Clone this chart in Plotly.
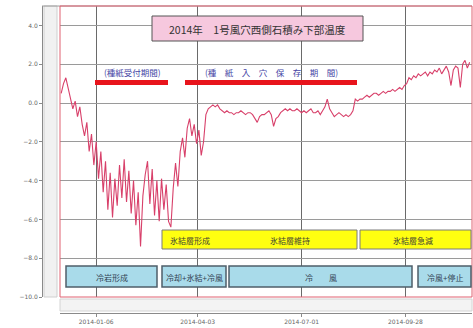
import plotly.graph_objects as go
import pandas as pd

# ---------------- data ----------------
temps = [
    0.5, 1.0, 1.3, 0.8, 0.3, -0.3, 0.1, -0.7, -0.2, -1.1,
    -1.7, -1.0, -2.5, -1.6, -3.2, -2.0, -3.9, -2.5, -4.6, -3.0,
    -5.5, -3.6, -5.9, -3.9, -5.3, -3.2, -4.9, -2.9, -5.1, -3.5,
    -5.7, -4.0, -6.3, -4.6, -7.4, -4.8, -3.7, -3.0, -5.2, -3.4,
    -5.8, -4.0, -6.1, -3.9, -5.5, -4.2, -6.1, -6.4, -4.4, -3.1,
    -4.3, -2.5, -1.8, -2.8, -1.3, -0.8, -1.7, -1.1, -2.1, -1.4,
    -2.7, -2.0, -0.6, -0.3, -0.2, -0.1, -0.2, -0.1, -0.3, -0.4,
    -0.5, -0.4, -0.5, -0.5, -0.6, -0.5, -0.5, -0.4, -0.5, -0.6,
    -0.5, -0.5, -0.6, -0.8, -1.0, -0.7, -0.6, -0.6, -0.5, -0.4,
    -0.6, -1.2, -0.8, -0.7, -0.5, -0.4, -0.3, -0.4, -0.3, -0.4,
    -0.4, -0.3, -0.4, -0.5, -0.4, -0.5, -0.4, -0.3, -0.5, -0.5,
    -0.4, -0.6, -0.4, -0.2, 0.2, -0.3, -0.5, -0.7, -0.6, -0.5,
    -0.6, -0.7, -0.6, -0.7, -0.6, -0.4, 0.2, 0.1, 0.2, 0.2,
    0.3, 0.4, 0.3, 0.4, 0.5, 0.5, 0.4, 0.5, 0.6, 0.5,
    0.6, 0.6, 0.7, 0.6, 0.7, 0.8, 0.7, 0.9, 1.0, 1.3,
    1.2, 1.4, 1.3, 1.5, 1.4, 1.5, 1.6, 1.4, 1.6, 1.5,
    1.7, 1.6, 1.8, 1.5, 1.7, 1.9, 1.6, 0.9, 1.7, 1.9,
    1.8, 0.8, 2.0, 2.2, 1.8, 2.1,
]
start_date = "2013-12-07"
dates = pd.date_range(start_date, periods=len(temps), freq="2D")

x_range = ["2013-12-06", "2014-11-24"]
tick_dates = ["2014-01-06", "2014-04-03", "2014-07-01", "2014-09-28"]
y_ticks = [-10, -8, -6, -4, -2, 0, 2, 4]

title_text = "2014年　1号風穴西側石積み下部温度"
period_labels = ["(種紙受付期間)", "(種　紙　入　穴　保　存　期　間)"]
ice_labels = ["氷結層形成", "氷結層維持", "氷結層急減"]
wind_labels = ["冷岩形成", "冷却+氷結+冷風", "冷　　風", "冷風+停止"]

# ---------------- layout helpers ----------------
W, H = 473, 328
L, R, T, B = 42, 1, 6, 15


def px(x):
    return (x - L) / (W - L - R)


def py(y):
    return (H - B - y) / (H - T - B)


FONT = "Noto Sans CJK JP"

fig = go.Figure()
fig.add_trace(go.Scatter(
    x=dates, y=temps, mode="lines",
    line=dict(color="#d8406a", width=1.1),
    hoverinfo="skip", showlegend=False,
))

shapes = []
# light strip left of plot
shapes.append(dict(type="rect", xref="paper", yref="paper",
                   x0=px(44), x1=px(57), y0=py(297), y1=py(6),
                   fillcolor="#f1f1f1", line=dict(color="#cfcfcf", width=1), layer="below"))
# bottom strip
shapes.append(dict(type="rect", xref="paper", yref="paper",
                   x0=px(60), x1=px(472), y0=py(311), y1=py(299),
                   fillcolor="#f3f3f3", line=dict(color="#d4d4d4", width=1), layer="below"))
# top frame line
shapes.append(dict(type="line", xref="paper", yref="paper",
                   x0=px(42), x1=px(472), y0=py(6), y1=py(6),
                   line=dict(color="#9a9a9a", width=1)))
# red border of plot area
shapes.append(dict(type="rect", xref="paper", yref="paper",
                   x0=px(60), x1=px(472), y0=py(297), y1=py(6),
                   line=dict(color="#e06070", width=1)))
# title box
shapes.append(dict(type="rect", xref="paper", yref="paper",
                   x0=px(152), x1=px(363), y0=py(41), y1=py(16),
                   fillcolor="#f6c8de", line=dict(color="#555555", width=1)))
# red period bars
for x0, x1 in [(95, 168), (185, 357)]:
    shapes.append(dict(type="rect", xref="paper", yref="paper",
                       x0=px(x0), x1=px(x1), y0=py(85), y1=py(80),
                       fillcolor="#e8141c", line=dict(width=0)))
# yellow boxes
for x0, x1 in [(162, 357), (360, 471)]:
    shapes.append(dict(type="rect", xref="paper", yref="paper",
                       x0=px(x0), x1=px(x1), y0=py(249), y1=py(230),
                       fillcolor="#ffff10", line=dict(color="#7a7a7a", width=1)))
# blue boxes
for x0, x1 in [(66, 157), (162, 226), (229, 412), (418, 471)]:
    shapes.append(dict(type="rect", xref="paper", yref="paper",
                       x0=px(x0), x1=px(x1), y0=py(287), y1=py(266),
                       fillcolor="#a9dbea", line=dict(color="#4f5f6a", width=1.5)))

annotations = []


def note(text, x, y, size, color):
    annotations.append(dict(text=text, xref="paper", yref="paper", x=px(x), y=py(y),
                            xanchor="center", yanchor="middle", showarrow=False,
                            font=dict(family=FONT, size=size, color=color)))


note(title_text, 257, 29, 10.5, "#333333")
note(period_labels[0], 132, 72, 8.5, "#4545a5")
note(period_labels[1], 271, 72, 8.5, "#4545a5")
for text, x in zip(ice_labels, [190, 290, 413]):
    note(text, x, 240, 8, "#444433")
for text, x in zip(wind_labels, [112, 194, 321, 445]):
    note(text, x, 277, 8, "#334455")

fig.update_layout(
    width=W, height=H,
    margin=dict(l=L, r=R, t=T, b=B, pad=0),
    paper_bgcolor="white", plot_bgcolor="white",
    shapes=shapes, annotations=annotations,
    xaxis=dict(
        type="date", range=x_range, domain=[px(60), 1],
        anchor="free", position=0,
        tickvals=tick_dates, tickformat="%Y-%m-%d",
        showgrid=True, gridcolor="#6a6a6a", gridwidth=1,
        showline=True, linecolor="#8a8a8a", linewidth=1,
        ticks="outside", ticklen=3, tickcolor="#8a8a8a",
        tickfont=dict(family="DejaVu Sans", size=6, color="#666666"),
        zeroline=False,
    ),
    yaxis=dict(
        range=[-10, 5], domain=[py(297), 1],
        anchor="free", position=0,
        tickvals=y_ticks, tickformat=".1f",
        showgrid=True, gridcolor="#9a9a9a", gridwidth=1,
        showline=True, linecolor="#8a8a8a", linewidth=1,
        ticks="outside", ticklen=3, tickcolor="#8a8a8a",
        tickfont=dict(family="DejaVu Sans", size=6, color="#666666"),
        zeroline=False,
    ),
)

fig.write_html("out.html")
